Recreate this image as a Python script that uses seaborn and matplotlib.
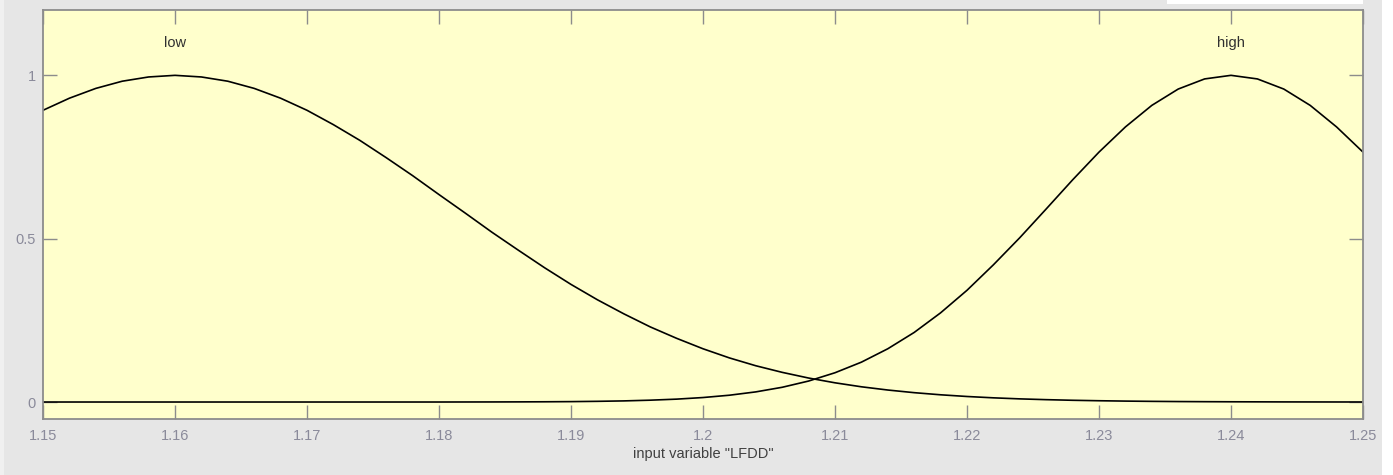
import numpy as np
import pandas as pd
import seaborn as sns
import matplotlib
matplotlib.use("Agg")
import matplotlib.pyplot as plt
from matplotlib.patches import Rectangle

# Membership function samples for the input variable "LFDD"
lfdd = [round(1.15 + 0.002 * i, 3) for i in range(51)]

mf_low = [0.893, 0.930, 0.960, 0.982, 0.995, 1.000, 0.995, 0.982, 0.960, 0.930,
          0.893, 0.849, 0.801, 0.748, 0.693, 0.635, 0.578, 0.520, 0.465, 0.411,
          0.360, 0.313, 0.270, 0.230, 0.195, 0.163, 0.135, 0.111, 0.0908, 0.0734,
          0.0588, 0.0466, 0.0367, 0.0286, 0.0221, 0.0169, 0.0128, 0.0096, 0.0072, 0.0053,
          0.0039, 0.0028, 0.0020, 0.0014, 0.0010, 0.0007, 0.0005, 0.0003, 0.0002, 0.0001,
          0.0001]

mf_high = [0.0, 0.0, 0.0, 0.0, 0.0, 0.0, 0.0, 0.0, 0.0, 0.0,
           0.0, 0.0, 0.0, 0.0, 0.0, 0.0, 0.0001, 0.0002, 0.0004, 0.0007,
           0.0012, 0.0021, 0.0034, 0.0056, 0.0088, 0.0137, 0.0208, 0.0310, 0.0451, 0.0642,
           0.0896, 0.122, 0.163, 0.213, 0.273, 0.342, 0.420, 0.503, 0.591, 0.680,
           0.765, 0.842, 0.908, 0.958, 0.989, 1.000, 0.989, 0.958, 0.908, 0.842,
           0.765]

mf_names = ["low", "high"]
mf_peaks = [1.16, 1.24]

x_ticks = [1.15, 1.16, 1.17, 1.18, 1.19, 1.20, 1.21, 1.22, 1.23, 1.24, 1.25]
x_tick_labels = ["1.15", "1.16", "1.17", "1.18", "1.19", "1.2", "1.21", "1.22", "1.23", "1.24", "1.25"]
y_ticks = [0, 0.5, 1]
y_tick_labels = ["0", "0.5", "1"]
x_label = 'input variable "LFDD"'

df = pd.DataFrame({
    "x": lfdd * 2,
    "mu": mf_low + mf_high,
    "mf": ["low"] * len(lfdd) + ["high"] * len(lfdd),
})

sns.set_style("ticks")
plt.rcParams["font.family"] = ["Liberation Sans", "DejaVu Sans"]

W, H = 1393, 475
fig = plt.figure(figsize=(W / 100, H / 100), dpi=100, facecolor="#e6e6e6")

# window chrome strips around the plot
fig.patches.append(Rectangle((0, 0), 4 / W, 1, transform=fig.transFigure,
                             facecolor="#f0f0f0", edgecolor="none", zorder=0))
fig.patches.append(Rectangle((1382 / W, 0), 11 / W, 1, transform=fig.transFigure,
                             facecolor="#ffffff", edgecolor="none", zorder=0))
fig.patches.append(Rectangle((1167 / W, 1 - 4 / H), 196 / W, 4 / H, transform=fig.transFigure,
                             facecolor="#ffffff", edgecolor="none", zorder=0))

ax = fig.add_axes([43 / W, 1 - 419 / H, (1363 - 43) / W, (419 - 10) / H])
ax.set_facecolor("#ffffcc")

sns.lineplot(data=df, x="x", y="mu", units="mf", estimator=None, color="black",
             linewidth=1.2, ax=ax, legend=False, sort=False)

for name, peak in zip(mf_names, mf_peaks):
    ax.text(peak, 1.1, name, ha="center", va="center", fontsize=10.5, color="#303030")

ax.set_xlim(1.15, 1.25)
ax.set_ylim(-0.052, 1.2)
ax.set_xticks(x_ticks)
ax.set_xticklabels(x_tick_labels)
ax.set_yticks(y_ticks)
ax.set_yticklabels(y_tick_labels)
ax.set_xlabel(x_label, fontsize=10.5, color="#404040", labelpad=3)
ax.set_ylabel("")

for s in ax.spines.values():
    s.set_visible(True)
    s.set_color("#8c8c8c")
    s.set_linewidth(1.3)

ax.tick_params(axis="both", which="both", direction="in", length=10, width=1.0,
               color="#8c8c8c", labelcolor="#8a8a9a", labelsize=10.5,
               top=True, right=True)
ax.tick_params(axis="x", pad=7)
ax.tick_params(axis="y", pad=5)

fig.savefig("out.png", dpi=100, facecolor=fig.get_facecolor())
